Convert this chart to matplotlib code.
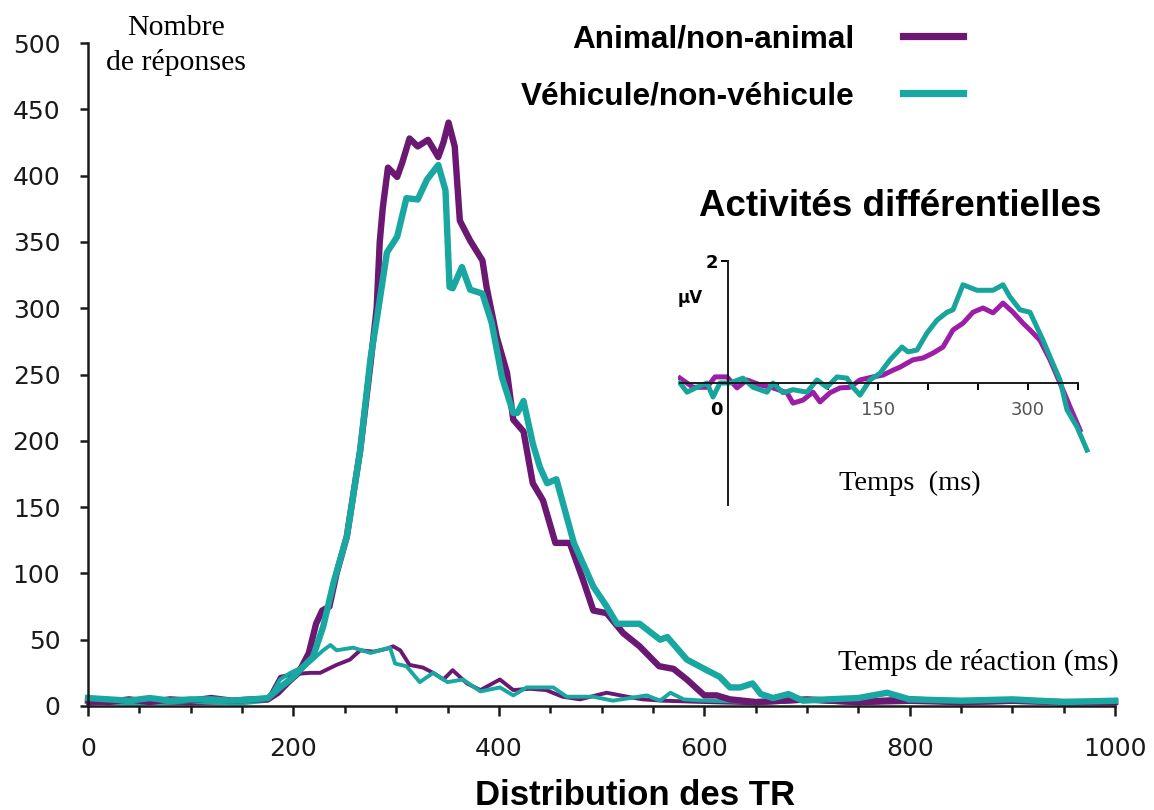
import numpy as np
import matplotlib
matplotlib.use('Agg')
import matplotlib.pyplot as plt
from matplotlib.ticker import MultipleLocator

# Distribution des TR (nombre de reponses), lignes epaisses = cibles, fines = erreurs
animal_x = [0, 20, 40, 60, 80, 100, 120, 140, 160, 175, 185, 195, 205, 215, 222, 228, 235, 242, 252, 265,
            275, 281, 284, 287, 292, 301, 306, 313, 321, 331, 341, 346, 351, 357, 362, 372, 384, 388, 398, 408,
            414, 424, 433, 443, 455, 469, 482, 492, 505, 521, 537, 556, 570, 583, 600, 612, 625, 650, 700, 750,
            800, 850, 900, 950, 1000]
animal_y = [4, 3, 5, 3, 5, 4, 6, 4, 5, 5, 10, 18, 25, 40, 62, 72, 75, 100, 128, 193,
            258, 300, 350, 376, 406, 399, 410, 428, 422, 427, 414, 425, 440, 422, 366, 351, 336, 316, 278, 251,
            216, 207, 168, 155, 123, 123, 95, 72, 70, 55, 45, 30, 28, 20, 8, 8, 5, 3, 5, 3,
            5, 3, 4, 3, 3]

vehicule_x = [0, 20, 40, 60, 80, 100, 120, 140, 160, 175, 187, 200, 210, 219, 229, 239, 252, 265, 275, 281,
              291, 301, 310, 321, 330, 341, 348, 352, 355, 364, 372, 384, 393, 403, 414, 418, 424, 433, 440, 447,
              456, 473, 492, 505, 515, 537, 557, 564, 583, 600, 615, 625, 635, 647, 655, 667, 682, 696, 720, 750,
              778, 800, 850, 900, 950, 1000]
vehicule_y = [6, 5, 4, 6, 4, 5, 5, 4, 5, 6, 14, 22, 30, 37, 60, 93, 128, 193, 262, 291,
              342, 354, 383, 382, 397, 408, 389, 316, 315, 331, 314, 311, 289, 248, 221, 221, 230, 198, 180, 168,
              171, 123, 90, 75, 62, 62, 50, 52, 35, 28, 22, 14, 14, 17, 9, 6, 9, 4, 5, 6,
              10, 5, 4, 5, 3, 4]

animal_err_x = [0, 50, 100, 150, 175, 187, 200, 216, 226, 242, 255, 265, 278, 290, 297, 304, 313, 326, 336, 346,
                355, 369, 382, 401, 414, 430, 446, 462, 479, 505, 525, 540, 560, 600, 650, 700, 750, 800, 850, 900,
                950, 1000]
animal_err_y = [2, 3, 2, 3, 5, 22, 24, 25, 25, 31, 35, 42, 41, 43, 45, 42, 31, 29, 25, 20,
                27, 17, 12, 20, 12, 13, 12, 7, 5, 10, 7, 5, 4, 3, 2, 4, 2, 3, 2, 3,
                2, 2]

vehicule_err_x = [0, 50, 100, 150, 175, 187, 197, 213, 229, 236, 242, 258, 275, 294, 299, 310, 323, 336, 350, 365,
                  382, 401, 414, 427, 453, 466, 492, 511, 544, 557, 567, 580, 600, 650, 700, 750, 800, 850, 900, 950,
                  1000]
vehicule_err_y = [3, 2, 3, 2, 4, 20, 25, 31, 42, 46, 42, 44, 40, 44, 32, 30, 18, 25, 18, 20,
                  11, 14, 8, 14, 14, 7, 7, 4, 8, 4, 10, 5, 4, 3, 4, 3, 4, 3, 4, 3,
                  3]

# Activites differentielles (uV en fonction du temps)
diff_animal_t = [-48, -35, -21, -13, -1, 9, 19, 32, 45, 59, 65, 75, 85, 92, 102, 112, 122, 132, 145, 155,
                 165, 172, 185, 195, 205, 215, 225, 235, 245, 255, 265, 275, 285, 295, 302, 312, 322, 332, 342, 352]
diff_animal_v = [0.08, -0.07, -0.07, 0.1, 0.1, -0.08, 0.05, -0.03, -0.08, -0.16, -0.33, -0.28, -0.15, -0.31, -0.16,
                 -0.08, -0.07, 0.05, 0.1, 0.13, 0.21, 0.26, 0.38, 0.41, 0.49, 0.59, 0.87, 0.98, 1.16, 1.23,
                 1.15, 1.31, 1.16, 0.98, 0.87, 0.7, 0.38, 0.0, -0.39, -0.77]

diff_vehicule_t = [-48, -41, -31, -21, -15, -8, 2, 15, 25, 39, 45, 55, 65, 79, 89, 99, 109, 119, 125, 132,
                   142, 152, 162, 174, 180, 189, 199, 209, 219, 225, 235, 249, 265, 275, 282, 292, 302, 315, 322, 332,
                   339, 349, 359]
diff_vehicule_v = [0.0, -0.15, -0.07, 0.0, -0.23, 0.0, 0.0, 0.08, -0.07, -0.15, 0.0, -0.16, -0.11, -0.15, 0.05,
                   -0.07, 0.1, 0.08, -0.07, -0.2, 0.05, 0.16, 0.38, 0.59, 0.51, 0.54, 0.82, 1.03, 1.16, 1.2,
                   1.61, 1.52, 1.52, 1.61, 1.41, 1.2, 1.16, 0.7, 0.43, 0.05, -0.44, -0.72, -1.1]

purple = '#6a1872'
teal = '#19a7a1'
purple_in = '#9c1ea6'
teal_in = '#17a49a'

fig = plt.figure(figsize=(11.54, 8.10), dpi=100)
ax = fig.add_axes([0.0763, 0.1284, 0.8900, 0.8185])

ax.plot(animal_err_x, animal_err_y, color=purple, lw=2.8, clip_on=False, solid_joinstyle='round')
ax.plot(vehicule_err_x, vehicule_err_y, color=teal, lw=2.8, clip_on=False, solid_joinstyle='round')
ax.plot(animal_x, animal_y, color=purple, lw=4.6, clip_on=False, solid_joinstyle='round',
        label='Animal/non-animal')
ax.plot(vehicule_x, vehicule_y, color=teal, lw=4.6, clip_on=False, solid_joinstyle='round',
        label='Véhicule/non-véhicule')

ax.set_xlim(0, 1000)
ax.set_ylim(0, 500)
for s in ['top', 'right']:
    ax.spines[s].set_visible(False)
for s in ['left', 'bottom']:
    ax.spines[s].set_linewidth(1.8)
    ax.spines[s].set_color('#1a1a1a')
ax.xaxis.set_major_locator(MultipleLocator(200))
ax.xaxis.set_minor_locator(MultipleLocator(50))
ax.yaxis.set_major_locator(MultipleLocator(50))
ax.tick_params(axis='both', which='both', direction='out', color='#1a1a1a', width=1.8, labelsize=18,
               labelcolor='#1a1a1a')
ax.tick_params(axis='x', which='major', length=7, pad=15)
ax.tick_params(axis='x', which='minor', length=5)
ax.tick_params(axis='y', which='major', length=6, pad=14)

leg = ax.legend(loc='upper right', bbox_to_anchor=(963 / 1154, 0.970), bbox_transform=fig.transFigure,
                frameon=False, markerfirst=False, borderpad=0, borderaxespad=0,
                handlelength=1.9, handletextpad=1.55, labelspacing=0.85,
                prop={'family': 'Liberation Sans', 'weight': 'bold', 'size': 22.7})
for line in leg.get_lines():
    line.set_linewidth(5.2)

serif = 'Liberation Serif'
fig.text(176 / 1154, 1 - 28 / 810, 'Nombre', family=serif, fontsize=21.5, ha='center', va='center')
fig.text(176 / 1154, 1 - 62 / 810, 'de réponses', family=serif, fontsize=21.5, ha='center', va='center')
fig.text(978 / 1154, 1 - 662 / 810, 'Temps de réaction (ms)', family=serif, fontsize=21.5,
         ha='center', va='center')
fig.text(635 / 1154, 1 - 805 / 810, 'Distribution des TR', family='Liberation Sans', weight='bold',
         fontsize=25, ha='center', va='baseline')
fig.text(900 / 1154, 1 - 207 / 810, 'Activités différentielles', family='Liberation Sans', weight='bold',
         fontsize=26.5, ha='center', va='center')

# encart
axi = fig.add_axes([678 / 1154, (810 - 505) / 810, 415 / 1154, 244 / 810])
axi.patch.set_alpha(0)
axi.plot(diff_animal_t, diff_animal_v, color=purple_in, lw=3.6, solid_joinstyle='round')
axi.plot(diff_vehicule_t, diff_vehicule_v, color=teal_in, lw=3.6, solid_joinstyle='round')
axi.set_xlim(-50, 365)
axi.set_ylim(-2, 2)
for s in ['top', 'right']:
    axi.spines[s].set_visible(False)
axi.spines['left'].set_position(('data', 0))
axi.spines['bottom'].set_position(('data', 0))
axi.spines['left'].set_bounds(-2, 2)
axi.spines['bottom'].set_bounds(-48, 350)
for s in ['left', 'bottom']:
    axi.spines[s].set_linewidth(1.4)
    axi.spines[s].set_color('#1a1a1a')
axi.set_xticks(range(50, 351, 50))
axi.set_xticklabels(['', '', '150', '', '', '300', ''])
axi.set_yticks([2])
axi.set_yticklabels(['2'], fontweight='bold')
axi.tick_params(axis='x', direction='out', length=5, width=1.4, labelsize=13, labelcolor='#555555', pad=8)
axi.tick_params(axis='y', direction='out', length=5, width=1.4, labelsize=13, pad=2)
axi.text(-12, -0.45, '0', fontsize=13, fontweight='bold', ha='center', va='center')
axi.text(-38, 1.4, 'µV', fontsize=12, fontweight='bold', ha='center', va='center')
axi.text(182, -1.64, 'Temps  (ms)', family=serif, fontsize=20.5, ha='center', va='center')

plt.savefig('out.png', dpi=100)
